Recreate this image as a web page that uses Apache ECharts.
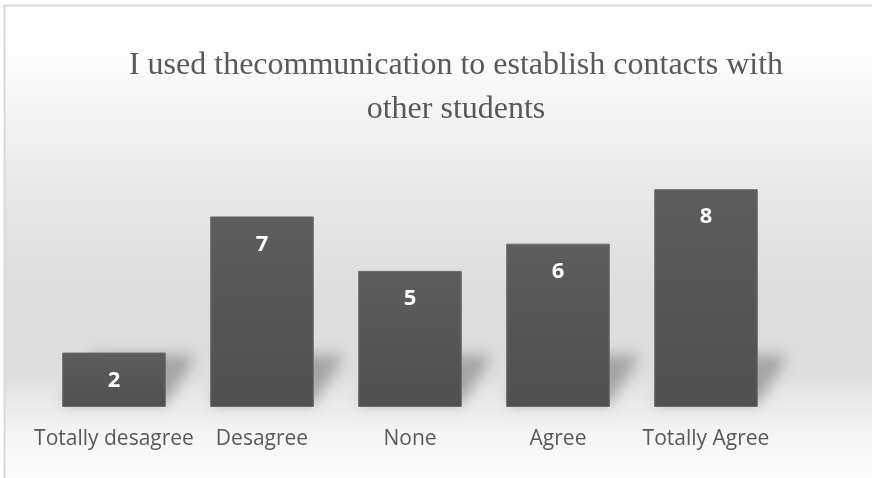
<!DOCTYPE html>
<html>
<head>
<meta charset="utf-8">
<style>
  html, body { margin: 0; padding: 0; background: #ffffff; }
  #chart { width: 872px; height: 478px; }
</style>
<script src="https://cdn.jsdelivr.net/npm/echarts@6/dist/echarts.min.js"></script>
</head>
<body>
<div id="chart"></div>
<script>
// Survey answers: "I used the communication to establish contacts with other students"
const categories = ['Totally desagree', 'Desagree', 'None', 'Agree', 'Totally Agree'];
const counts = [2, 7, 5, 6, 8];
const chartTitle = 'I used thecommunication to establish contacts with\nother students';

const chart = echarts.init(document.getElementById('chart'), null, { renderer: 'canvas' });

// Soft floor shadow cast behind each column
function renderFloorShadow(params, api) {
  const idx = api.value(0);
  const base = api.coord([idx, 0]);
  const band = api.size([1, 0])[0];
  const w = band * 0.7;
  const left = base[0] - w / 2;
  const right = base[0] + w / 2;
  const y0 = base[1];
  const k = 30, m = 52;
  const shift = 3000;
  return {
    type: 'polygon',
    shape: {
      points: [
        [left - shift, y0 - 2],
        [right - shift, y0 - 2],
        [right + k - shift, y0 - m],
        [left + k - shift, y0 - m]
      ]
    },
    style: {
      fill: '#000',
      shadowColor: 'rgba(0,0,0,0.26)',
      shadowBlur: 14,
      shadowOffsetX: shift,
      shadowOffsetY: 0
    },
    silent: true
  };
}

const option = {
  animation: false,
  backgroundColor: '#ffffff',
  graphic: [
    {
      type: 'rect',
      z: -10,
      silent: true,
      shape: { x: 4.5, y: 5.5, width: 900, height: 500 },
      style: {
        stroke: '#d9d9d9',
        lineWidth: 2,
        fill: {
          type: 'linear', x: 0, y: 0, x2: 0, y2: 1,
          colorStops: [
            { offset: 0.00, color: '#ffffff' },
            { offset: 0.10, color: '#fdfdfd' },
            { offset: 0.22, color: '#f4f4f4' },
            { offset: 0.36, color: '#e8e8e8' },
            { offset: 0.58, color: '#dddddd' },
            { offset: 0.74, color: '#dedede' },
            { offset: 0.80, color: '#ebebeb' },
            { offset: 0.86, color: '#f6f6f6' },
            { offset: 1.00, color: '#ffffff' }
          ]
        }
      }
    }
  ],
  title: {
    text: chartTitle,
    left: 451,
    textAlign: 'center',
    top: 39,
    textStyle: {
      fontFamily: '"Liberation Serif", "Times New Roman", serif',
      fontWeight: 'normal',
      fontSize: 32,
      lineHeight: 44,
      color: '#595959'
    }
  },
  grid: { left: 40, right: 92, top: 162, bottom: 71, containLabel: false },
  xAxis: {
    type: 'category',
    data: categories,
    axisLine: { show: false },
    axisTick: { show: false },
    axisLabel: {
      margin: 22,
      fontFamily: '"Open Sans", sans-serif',
      fontSize: 21,
      color: '#595959',
      interval: 0
    }
  },
  yAxis: {
    type: 'value',
    min: 0,
    max: 9,
    interval: 1,
    show: false,
    splitLine: { show: false }
  },
  series: [
    {
      type: 'custom',
      renderItem: renderFloorShadow,
      data: counts.map((v, i) => [i, v]),
      z: 1,
      clip: false,
      silent: true
    },
    {
      type: 'bar',
      data: counts,
      barWidth: '70%',
      z: 2,
      itemStyle: {
        color: {
          type: 'linear', x: 0, y: 0, x2: 0, y2: 1,
          colorStops: [
            { offset: 0, color: '#5d5d5d' },
            { offset: 1, color: '#505050' }
          ]
        },
        borderColor: '#6c6c6c',
        borderWidth: 1
      },
      label: {
        show: true,
        position: 'insideTop',
        distance: 17,
        color: '#ffffff',
        fontWeight: 'bold',
        fontSize: 22,
        fontFamily: '"Open Sans", sans-serif'
      }
    }
  ]
};

chart.setOption(option);
</script>
</body>
</html>
